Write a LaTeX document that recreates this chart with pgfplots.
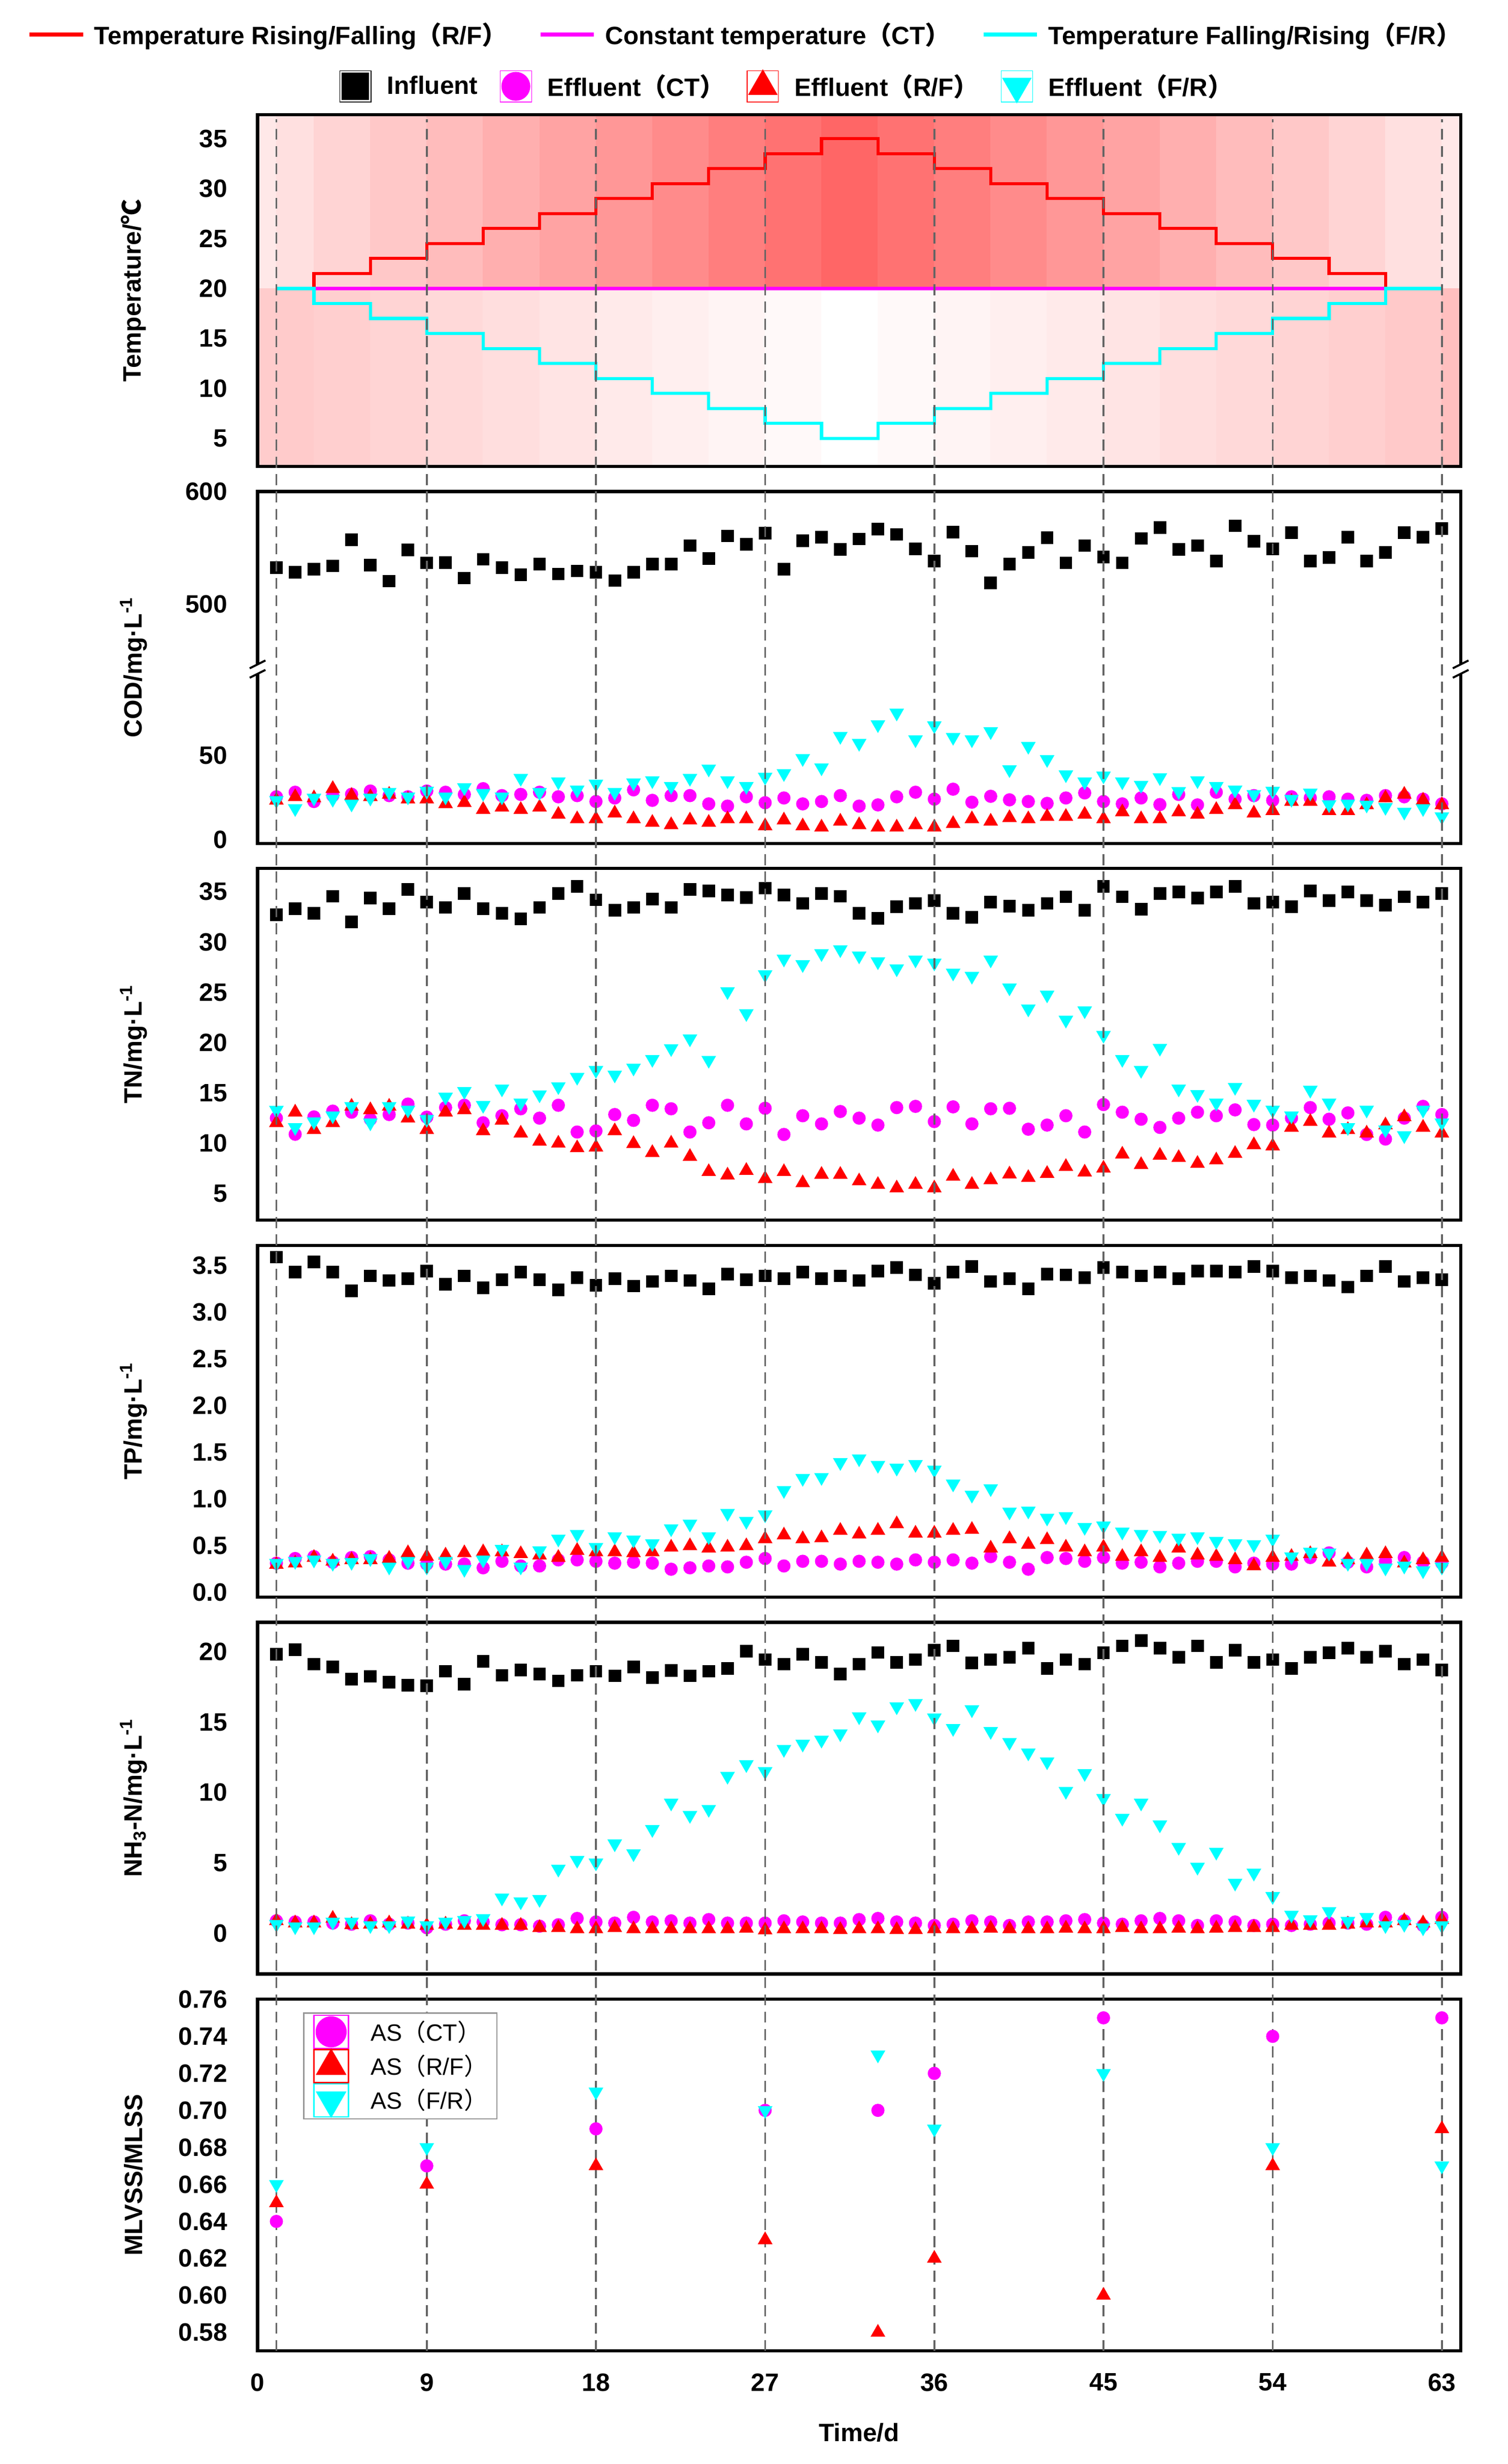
\documentclass[border=0pt]{standalone}
\usepackage{fontspec}
\setmainfont{Liberation Sans}
\newfontfamily\cjk{Noto Sans CJK SC}
\usepackage{pgfplots}
\usepackage{pgfplotstable}
\pgfplotsset{compat=1.18}
\definecolor{dashgray}{RGB}{100,100,100}
\definecolor{mag}{RGB}{255,0,255}
\definecolor{cyn}{RGB}{0,255,255}
\definecolor{rd}{RGB}{255,0,0}
\newcommand{\lp}{{\cjk （}}
\newcommand{\rp}{{\cjk ）}}
\newcommand{\fs}{\fontsize{16}{19}\selectfont\bfseries}
\newcommand{\band}[4]{%
  \addplot[draw=rd!#3!white, line width=0.3pt, fill=rd!#3!white, forget plot] coordinates {(#1,20) (#1,37.4) (#2,37.4) (#2,20)};
  \addplot[draw=rd!#4!white, line width=0.3pt, fill=rd!#4!white, forget plot] coordinates {(#1,2.2) (#1,20) (#2,20) (#2,2.2)};
}

\pgfplotstableread{
day inf ct rf fr
1 531.5 25.5 23.4 23.4
2 527.3 28.2 25.5 18.6
3 529.9 22.7 24.8 24.8
4 532.9 26.2 30.3 24.1
5 555.5 27.0 26.2 21.3
6 533.5 28.9 25.5 24.8
7 519.8 26.2 26.9 28.2
8 546.6 25.5 24.1 25.5
9 535.5 28.9 24.1 28.9
10 535.9 28.2 21.3 25.5
11 522.4 26.9 22.0 31.0
12 538.6 30.3 17.9 27.6
13 531.3 26.2 19.3 25.5
14 525.3 26.9 17.9 36.5
15 534.5 28.2 19.3 28.2
16 525.9 25.5 15.1 34.4
17 528.5 26.2 12.4 29.6
18 527.5 22.7 12.4 33.1
19 520.2 24.8 15.8 28.2
20 527.5 29.6 12.4 33.8
21 534.3 23.4 10.3 35.1
22 534.5 26.2 8.9 31.7
23 550.4 26.2 11.7 36.5
24 539.4 21.3 10.3 42.0
25 558.7 20.0 12.4 35.1
26 551.6 25.5 12.4 31.7
27 561.1 22.0 8.2 37.2
28 529.9 24.8 11.7 39.3
29 554.5 21.3 8.2 48.2
30 557.7 22.7 7.5 42.7
31 547.0 26.2 11.0 61.3
32 556.1 20.0 8.9 57.2
33 564.5 20.7 7.5 68.2
34 560.1 25.5 7.5 75.1
35 547.6 28.2 8.9 59.3
36 536.9 24.1 7.5 67.6
37 562.1 30.0 9.6 60.7
38 545.6 22.3 12.4 59.3
39 518.2 25.8 11.0 64.1
40 534.3 23.7 13.1 41.6
41 544.4 22.7 12.4 55.4
42 557.3 21.6 13.8 47.6
43 535.5 24.8 13.8 38.6
44 550.4 27.8 15.1 34.4
45 540.6 22.7 12.4 37.9
46 535.5 21.3 16.5 34.4
47 556.5 24.8 12.4 32.4
48 566.1 20.9 12.4 36.9
49 547.0 26.9 16.5 28.7
50 550.4 20.7 15.1 35.1
51 536.9 28.2 17.9 31.7
52 567.5 24.1 20.7 29.6
53 554.1 26.2 15.8 26.9
54 547.6 23.4 17.2 28.9
55 561.5 25.5 22.7 24.1
56 536.9 24.8 22.7 27.8
57 540.0 25.5 17.2 20.9
58 557.5 24.1 17.2 21.3
59 536.9 23.4 20.7 20.7
60 544.4 26.2 24.8 19.3
61 561.5 25.5 26.9 16.5
62 557.5 24.1 23.4 18.6
63 565.1 21.3 20.7 13.8
}\codtab

\pgfplotstableread{
day inf ct rf fr
1 32.70 12.50 12.04 13.30
2 33.30 10.90 13.09 11.58
3 32.87 12.62 11.35 12.16
4 34.54 13.20 12.04 12.74
5 32.00 13.09 13.67 13.67
6 34.38 12.39 13.32 12.04
7 33.31 12.86 13.67 13.67
8 35.24 13.90 12.50 13.32
9 33.96 12.60 11.35 12.39
10 33.43 13.55 13.09 14.60
11 34.82 13.78 13.32 15.17
12 33.31 12.04 11.23 13.78
13 32.87 12.74 12.28 15.41
14 32.29 13.43 11.00 14.02
15 33.43 12.50 10.19 14.83
16 34.82 13.78 10.00 15.64
17 35.51 11.12 9.54 16.57
18 34.19 11.23 9.61 17.26
19 33.15 12.86 11.23 16.80
20 33.43 12.28 9.96 17.49
21 34.26 13.78 9.07 18.35
22 33.43 13.43 10.00 19.42
23 35.24 11.12 8.68 20.39
24 35.07 12.04 7.17 18.26
25 34.66 13.78 6.83 25.08
26 34.42 11.93 7.29 22.90
27 35.35 13.48 6.48 26.77
28 34.66 10.88 7.17 28.32
29 33.84 12.74 6.06 27.77
30 34.82 11.93 6.90 28.86
31 34.54 13.16 6.90 29.25
32 32.87 12.50 6.25 28.63
33 32.34 11.81 5.90 28.05
34 33.50 13.55 5.55 27.35
35 33.84 13.67 5.90 28.23
36 34.12 12.16 5.55 27.93
37 32.87 13.62 6.71 26.93
38 32.45 11.93 5.90 26.61
39 33.96 13.43 6.36 28.23
40 33.57 13.48 6.94 25.45
41 33.15 11.40 6.59 23.36
42 33.84 11.81 6.99 24.75
43 34.49 12.74 7.68 22.25
44 33.15 11.12 7.13 23.18
45 35.51 13.85 7.52 20.74
46 34.49 13.09 8.91 18.35
47 33.26 12.39 7.87 17.26
48 34.82 11.58 8.80 19.46
49 34.96 12.50 8.57 15.41
50 34.38 13.09 7.99 14.87
51 34.96 12.74 8.33 14.02
52 35.51 13.32 8.98 15.57
53 33.84 11.86 9.84 13.90
54 33.96 11.81 9.72 13.32
55 33.50 12.50 11.58 12.74
56 35.07 13.55 12.16 15.29
57 34.12 12.39 11.00 14.02
58 34.96 13.02 11.35 11.58
59 34.12 10.88 11.00 13.32
60 33.66 10.42 11.81 11.35
61 34.49 12.50 12.62 10.77
62 33.96 13.67 11.58 13.32
63 34.82 12.86 11.00 12.04
}\tntab

\pgfplotstableread{
day inf ct rf fr
1 3.59 0.31 0.295 0.31
2 3.43 0.36 0.31 0.33
3 3.54 0.38 0.37 0.345
4 3.43 0.32 0.33 0.31
5 3.23 0.37 0.345 0.32
6 3.39 0.38 0.345 0.36
7 3.34 0.345 0.36 0.27
8 3.36 0.31 0.42 0.33
9 3.44 0.30 0.38 0.27
10 3.30 0.30 0.395 0.33
11 3.39 0.30 0.42 0.245
12 3.26 0.26 0.43 0.345
13 3.35 0.33 0.43 0.46
14 3.43 0.28 0.41 0.27
15 3.35 0.28 0.395 0.445
16 3.24 0.345 0.37 0.57
17 3.37 0.345 0.445 0.62
18 3.29 0.33 0.43 0.48
19 3.36 0.31 0.43 0.595
20 3.28 0.32 0.42 0.56
21 3.33 0.31 0.43 0.52
22 3.39 0.245 0.48 0.68
23 3.34 0.26 0.495 0.73
24 3.25 0.28 0.47 0.595
25 3.41 0.27 0.48 0.845
26 3.35 0.32 0.495 0.76
27 3.39 0.36 0.57 0.83
28 3.36 0.28 0.61 1.09
29 3.43 0.33 0.57 1.22
30 3.36 0.33 0.58 1.23
31 3.39 0.30 0.66 1.39
32 3.34 0.33 0.62 1.43
33 3.44 0.32 0.66 1.36
34 3.48 0.30 0.73 1.33
35 3.40 0.345 0.63 1.37
36 3.31 0.32 0.63 1.31
37 3.43 0.345 0.66 1.16
38 3.49 0.31 0.67 1.04
39 3.33 0.38 0.47 1.11
40 3.36 0.32 0.57 0.86
41 3.25 0.245 0.51 0.87
42 3.41 0.37 0.56 0.795
43 3.40 0.36 0.48 0.81
44 3.37 0.33 0.43 0.695
45 3.48 0.37 0.48 0.71
46 3.43 0.31 0.38 0.645
47 3.39 0.32 0.43 0.62
48 3.43 0.27 0.37 0.61
49 3.36 0.31 0.47 0.58
50 3.44 0.33 0.395 0.595
51 3.44 0.33 0.38 0.545
52 3.43 0.27 0.345 0.52
53 3.49 0.31 0.28 0.51
54 3.44 0.30 0.37 0.57
55 3.37 0.30 0.38 0.38
56 3.39 0.37 0.41 0.43
57 3.34 0.42 0.32 0.42
58 3.27 0.32 0.345 0.31
59 3.39 0.27 0.395 0.31
60 3.49 0.33 0.41 0.26
61 3.33 0.37 0.31 0.28
62 3.37 0.32 0.345 0.23
63 3.35 0.31 0.37 0.27
}\tptab

\pgfplotstableread{
day inf ct rf fr
1 19.82 0.88 0.88 0.64
2 20.15 0.80 0.72 0.47
3 19.12 0.80 0.72 0.47
4 18.92 0.72 1.05 0.80
5 18.05 0.64 0.60 0.80
6 18.26 0.88 0.64 0.55
7 17.83 0.64 0.72 0.55
8 17.63 0.72 0.64 0.88
9 17.60 0.39 0.55 0.55
10 18.62 0.64 0.64 0.80
11 17.71 0.88 0.55 0.92
12 19.32 0.80 0.55 1.05
13 18.33 0.60 0.55 2.51
14 18.71 0.60 0.55 2.24
15 18.43 0.50 0.39 2.41
16 17.93 0.60 0.39 4.56
17 18.33 1.05 0.30 5.19
18 18.62 0.80 0.30 5.00
19 18.29 0.72 0.39 6.36
20 18.92 1.13 0.30 5.66
21 18.16 0.80 0.30 7.38
22 18.66 0.88 0.30 9.26
23 18.29 0.72 0.30 8.38
24 18.62 0.97 0.30 8.81
25 18.82 0.72 0.30 11.16
26 20.03 0.72 0.35 11.99
27 19.45 0.72 0.22 11.50
28 19.12 0.88 0.30 13.07
29 19.82 0.80 0.30 13.45
30 19.25 0.72 0.30 13.73
31 18.43 0.72 0.25 14.18
32 19.12 0.97 0.30 15.39
33 19.95 1.05 0.30 14.81
34 19.25 0.80 0.25 16.10
35 19.45 0.72 0.25 16.34
36 20.12 0.55 0.30 15.31
37 20.42 0.64 0.30 14.56
38 19.20 0.88 0.30 15.89
39 19.45 0.80 0.35 14.35
40 19.62 0.55 0.30 13.57
41 20.25 0.80 0.30 12.82
42 18.82 0.80 0.30 12.19
43 19.45 0.88 0.35 10.09
44 19.12 0.97 0.30 11.36
45 19.92 0.72 0.30 9.59
46 20.42 0.64 0.39 8.18
47 20.81 0.88 0.30 9.26
48 20.25 1.05 0.30 7.71
49 19.62 0.88 0.35 6.11
50 20.42 0.55 0.30 4.70
51 19.25 0.88 0.35 5.77
52 20.12 0.80 0.39 3.57
53 19.25 0.55 0.39 4.28
54 19.45 0.64 0.39 2.62
55 18.82 0.55 0.55 1.30
56 19.62 0.64 0.55 0.97
57 19.92 0.72 0.55 1.55
58 20.25 0.72 0.64 0.85
59 19.62 0.64 0.72 1.13
60 20.03 1.13 0.72 0.55
61 19.12 0.88 0.88 0.64
62 19.45 0.55 0.72 0.39
63 18.71 1.13 0.97 0.55
}\nhtab

\pgfplotsset{
  panel/.style={
    scale only axis, width=766pt, height=224pt,
    xmin=0, xmax=64, anchor=north west, clip=false,
    axis line style={line width=2pt, black},
    tick style={draw=none}, major tick length=0pt,
    xtick=\empty,
    scaled y ticks=false,
    /pgf/number format/assume math mode=true,
    tick label style={font=\fs},
    yticklabel style={anchor=east, inner sep=0pt, xshift=-19pt},
    every axis y label/.style={at={(axis description cs:-0.103,0.5)}, rotate=90, anchor=center, font=\fs},
  },
  inf/.style={only marks, mark=square*, mark size=3.8pt, black},
  ctm/.style={only marks, mark=*, mark size=4pt, mag},
  rfm/.style={only marks, mark=triangle*, mark size=5pt, rd},
  frm/.style={only marks, mark=triangle*, mark size=5pt, cyn, mark options={rotate=180}},
}

\begin{document}
\begin{tikzpicture}
\useasboundingbox (0pt,0pt) rectangle (960pt,1569pt);

% ---------- Temperature ----------
\begin{axis}[panel, at={(164pt,1496pt)}, ymin=2.2, ymax=37.4, ytick={5,10,15,20,25,30,35},
  ylabel={Temperature/{\cjk ℃}}, axis on top,
  legend columns=3,
  legend style={at={(axis description cs:0.4047,1.2277)}, anchor=center, draw=none, fill=none,
    font=\fs, nodes={inner sep=0pt},
    /tikz/every odd column/.append style={column sep=6pt},
    /tikz/every even column/.append style={column sep=20pt}},
  legend image code/.code={\draw[#1, line width=2.5pt] (0pt,0pt) -- (34pt,0pt);},
]
\band{0}{1}{9}{20}
\band{1}{3}{12}{20.5}
\band{3}{6}{16.8}{19}
\band{6}{9}{21.6}{17}
\band{9}{12}{26.4}{15}
\band{12}{15}{31.2}{12.8}
\band{15}{18}{36}{10.6}
\band{18}{21}{40.8}{8.4}
\band{21}{24}{45.6}{6.2}
\band{24}{27}{50.4}{4.2}
\band{27}{30}{55.2}{2.2}
\band{30}{33}{60}{0}
\band{33}{36}{55.2}{2.2}
\band{36}{39}{50.4}{4.2}
\band{39}{42}{45.6}{6.2}
\band{42}{45}{40.8}{8.4}
\band{45}{48}{36}{10.6}
\band{48}{51}{31.2}{12.8}
\band{51}{54}{26.4}{15}
\band{54}{57}{21.6}{17}
\band{57}{60}{16.8}{19}
\band{60}{63}{12}{21}
\band{63}{64}{9}{25}
\addplot[rd, line width=2pt, const plot] coordinates {(3,20)(3,21.5)(6,23)(9,24.5)(12,26)(15,27.5)(18,29)(21,30.5)(24,32)(27,33.5)(30,35)(33,33.5)(36,32)(39,30.5)(42,29)(45,27.5)(48,26)(51,24.5)(54,23)(57,21.5)(60,20)};
\addlegendentry{Temperature Rising/Falling\lp R/F\rp}
\addplot[mag, line width=2pt] coordinates {(3,20)(60,20)};
\addlegendentry{Constant temperature\lp CT\rp}
\addplot[cyn, line width=2pt, const plot] coordinates {(1,20)(3,18.5)(6,17)(9,15.5)(12,14)(15,12.5)(18,11)(21,9.5)(24,8)(27,6.5)(30,5)(33,6.5)(36,8)(39,9.5)(42,11)(45,12.5)(48,14)(51,15.5)(54,17)(57,18.5)(60,20)(63,20)};
\addlegendentry{Temperature Falling/Rising\lp F/R\rp}
\end{axis}

% ---------- COD ----------
\begin{axis}[panel, at={(164pt,1256pt)}, ymin=-2, ymax=206, ytick={0,50,139.5,206}, yticklabels={0,50,500,600},
  ylabel={COD/mg·L\textsuperscript{-1}},
  legend columns=4,
  legend style={at={(axis description cs:0.4393,2.1518)}, anchor=center, draw=none, fill=none,
    font=\fs, nodes={inner sep=0pt},
    /tikz/every odd column/.append style={column sep=10pt},
    /tikz/every even column/.append style={column sep=14pt}},
  legend image code/.code={\path (-10pt,-10pt) rectangle (10pt,10pt); \draw[#1] plot coordinates {(0pt,0pt)};},
]
\addlegendimage{only marks, mark=square*, mark size=8.5pt, black}
\addlegendentry{Influent}
\addlegendimage{only marks, mark=*, mark size=9pt, mag}
\addlegendentry{Effluent\lp CT\rp}
\addlegendimage{only marks, mark=triangle*, mark size=10.5pt, rd}
\addlegendentry{Effluent\lp R/F\rp}
\addlegendimage{only marks, mark=triangle*, mark size=10.5pt, cyn, mark options={rotate=180}}
\addlegendentry{Effluent\lp F/R\rp}
\addplot[inf, forget plot] table[x=day, y expr={139.5+0.685*(\thisrow{inf}-500)}] {\codtab};
\addplot[ctm, forget plot] table[x=day, y=ct] {\codtab};
\addplot[rfm, forget plot] table[x=day, y=rf] {\codtab};
\addplot[frm, forget plot] table[x=day, y=fr] {\codtab};
\pgfplotsinvokeforeach{0,64}{
  \fill[white] ([xshift=-4pt,yshift=-3pt]axis cs:#1,101) rectangle ([xshift=4pt,yshift=3pt]axis cs:#1,101);
  \draw[line width=1.3pt] ([xshift=-5pt,yshift=-5.5pt]axis cs:#1,101) -- ([xshift=5pt,yshift=-0.5pt]axis cs:#1,101);
  \draw[line width=1.3pt] ([xshift=-5pt,yshift=0.5pt]axis cs:#1,101) -- ([xshift=5pt,yshift=5.5pt]axis cs:#1,101);
}
\end{axis}

% ---------- TN ----------
\begin{axis}[panel, at={(164pt,1016pt)}, ymin=2.36, ymax=37.31, ytick={5,10,15,20,25,30,35},
  ylabel={TN/mg·L\textsuperscript{-1}}]
\addplot[inf] table[x=day, y=inf] {\tntab};
\addplot[ctm] table[x=day, y=ct] {\tntab};
\addplot[rfm] table[x=day, y=rf] {\tntab};
\addplot[frm] table[x=day, y=fr] {\tntab};
\end{axis}

% ---------- TP ----------
\begin{axis}[panel, at={(164pt,776pt)}, ymin=-0.054, ymax=3.717, ytick={0,0.5,1,1.5,2,2.5,3,3.5},
  yticklabel style={/pgf/number format/fixed, /pgf/number format/fixed zerofill, /pgf/number format/precision=1},
  ylabel={TP/mg·L\textsuperscript{-1}}]
\addplot[inf] table[x=day, y=inf] {\tptab};
\addplot[ctm] table[x=day, y=ct] {\tptab};
\addplot[rfm] table[x=day, y=rf] {\tptab};
\addplot[frm] table[x=day, y=fr] {\tptab};
\end{axis}

% ---------- NH3-N ----------
\begin{axis}[panel, at={(164pt,536pt)}, ymin=-2.9, ymax=22.1, ytick={0,5,10,15,20},
  ylabel={NH\textsubscript{3}-N/mg·L\textsuperscript{-1}}]
\addplot[inf] table[x=day, y=inf] {\nhtab};
\addplot[ctm] table[x=day, y=ct] {\nhtab};
\addplot[rfm] table[x=day, y=rf] {\nhtab};
\addplot[frm] table[x=day, y=fr] {\nhtab};
\end{axis}

% ---------- MLVSS/MLSS ----------
\begin{axis}[panel, at={(164pt,296pt)}, ymin=0.57, ymax=0.7601,
  ytick={0.58,0.60,0.62,0.64,0.66,0.68,0.70,0.72,0.74,0.76},
  yticklabel style={/pgf/number format/fixed, /pgf/number format/fixed zerofill, /pgf/number format/precision=2},
  ylabel={MLVSS/MLSS},
  xtick={0,9,18,27,36,45,54,63},
  xticklabel style={anchor=center, inner sep=0pt, yshift=-20pt},
  xlabel={Time/d},
  every axis x label/.style={at={(axis description cs:0.5,-0.232)}, anchor=center, font=\fs},
  legend cell align=left,
  legend style={at={(axis description cs:0.0379,0.962)}, anchor=north west,
    draw={rgb,255:red,150;green,150;blue,150}, line width=0.8pt, fill=white,
    font=\fontsize{15}{17}\selectfont\mdseries, inner xsep=6pt, inner ysep=1pt,
    nodes={inner sep=0pt},
    /tikz/every odd column/.append style={column sep=14pt}},
  legend image code/.code={\path (-11pt,-10.5pt) rectangle (11pt,10.5pt); \draw[#1] plot coordinates {(0pt,0pt)};},
]
\pgfplotsinvokeforeach{1,9,18,27,36,45,54,63}{
  \draw[dashgray, line width=1.2pt, dash pattern=on 7pt off 4pt] (axis cs:#1,0.57) -- (axis cs:#1,1.776);
}
\addlegendimage{only marks, mark=*, mark size=9.5pt, mag}
\addlegendentry{AS\lp CT\rp}
\addlegendimage{only marks, mark=triangle*, mark size=10.5pt, rd}
\addlegendentry{AS\lp R/F\rp}
\addlegendimage{only marks, mark=triangle*, mark size=10.5pt, cyn, mark options={rotate=180}}
\addlegendentry{AS\lp F/R\rp}
\addplot[ctm, forget plot] coordinates {(1,0.64)(9,0.67)(18,0.69)(27,0.70)(33,0.70)(36,0.72)(45,0.75)(54,0.74)(63,0.75)};
\addplot[rfm, forget plot] coordinates {(1,0.65)(9,0.66)(18,0.67)(27,0.63)(33,0.58)(36,0.62)(45,0.60)(54,0.67)(63,0.69)};
\addplot[frm, forget plot] coordinates {(1,0.66)(9,0.68)(18,0.71)(27,0.70)(33,0.73)(36,0.69)(45,0.72)(54,0.68)(63,0.67)};
\end{axis}
\end{tikzpicture}
\end{document}
